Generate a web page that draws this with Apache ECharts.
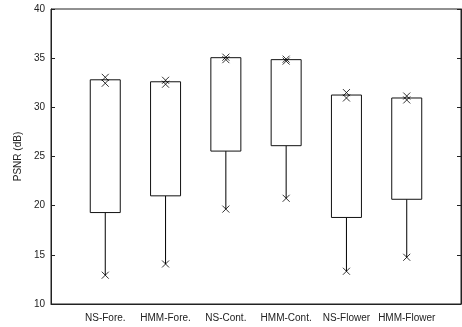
<!DOCTYPE html>
<html>
<head>
<meta charset="utf-8">
<script src="https://cdn.jsdelivr.net/npm/echarts@6/dist/echarts.min.js"></script>
<style>html,body{margin:0;padding:0;background:#fff;}#c{width:462px;height:327px;}</style>
</head>
<body>
<div id="c"></div>
<script>
var categories = ['NS-Fore.', 'HMM-Fore.', 'NS-Cont.', 'HMM-Cont.', 'NS-Flower', 'HMM-Flower'];
var boxLow  = [19.3, 21.0, 25.55, 26.1, 18.8, 20.65];
var boxHigh = [32.8, 32.6, 35.05, 34.85, 31.25, 30.95];
var minVals = [12.93, 14.07, 19.65, 20.75, 13.33, 14.75];
var upperA  = [33.05, 32.75, 35.1, 34.9, 31.5, 31.15];
var upperB  = [32.45, 32.35, 34.85, 34.7, 30.95, 30.75];
var yTicks  = [10, 15, 20, 25, 30, 35, 40];

var positions = categories.map(function (c, i) { return i + 1; });
var boxData = categories.map(function (c, i) { return [positions[i], minVals[i], boxLow[i], boxHigh[i]]; });
function pts(arr) { return arr.map(function (v, i) { return [positions[i], v]; }); }

var font = 'Liberation Sans, Arial, sans-serif';
var xSym = 'path://M0,0L10,10M10,0L0,10';
var markerStyle = { color: 'transparent', borderColor: '#000', borderWidth: 1 };

var chart = echarts.init(document.getElementById('c'), null, { renderer: 'canvas' });
chart.setOption({
  animation: false,
  backgroundColor: '#fff',
  grid: { left: 51, top: 9, right: 1, bottom: 23, show: true, borderColor: '#222', borderWidth: 1, backgroundColor: 'transparent' },
  xAxis: {
    type: 'value', min: 0.1, max: 6.9,
    splitLine: { show: false },
    axisLine: { show: true, lineStyle: { color: '#222', width: 1 } },
    axisTick: { show: false },
    axisLabel: {
      customValues: positions,
      formatter: function (v) { var i = Math.round(v) - 1; return categories[i] || ''; },
      color: '#222', fontFamily: font, fontSize: 10, margin: 9
    }
  },
  yAxis: [{
    type: 'value', min: 10, max: 40, interval: 5, position: 'left',
    name: 'PSNR (dB)', nameLocation: 'middle', nameGap: 22, nameRotate: 90,
    nameTextStyle: { color: '#222', fontFamily: font, fontSize: 10 },
    splitLine: { show: false },
    axisLine: { show: true, lineStyle: { color: '#222', width: 1 } },
    axisTick: { show: true, inside: true, length: 4, lineStyle: { color: '#222' } },
    axisLabel: { color: '#222', fontFamily: font, fontSize: 10, margin: 6,
      formatter: function (v) { return yTicks.indexOf(v) >= 0 ? String(v) : ''; } }
  }, {
    type: 'value', min: 10, max: 40, interval: 5, position: 'right',
    splitLine: { show: false },
    axisLine: { show: true, lineStyle: { color: '#222', width: 1 } },
    axisTick: { show: true, inside: true, length: 4, lineStyle: { color: '#222' } },
    axisLabel: { show: false }
  }],
  series: [{
    type: 'custom',
    data: boxData,
    encode: { x: 0, y: [1, 2, 3] },
    renderItem: function (params, api) {
      var x = api.value(0);
      var pLo = api.coord([x, api.value(1)]);
      var pQ1 = api.coord([x, api.value(2)]);
      var pQ3 = api.coord([x, api.value(3)]);
      var half = 15;
      return {
        type: 'group',
        children: [
          { type: 'line', shape: { x1: pLo[0], y1: pLo[1], x2: pQ1[0], y2: pQ1[1] }, style: { stroke: '#000', lineWidth: 1 } },
          { type: 'rect', shape: { x: pQ3[0] - half, y: pQ3[1], width: 2 * half, height: pQ1[1] - pQ3[1] }, style: { fill: '#fff', stroke: '#111', lineWidth: 1 } }
        ]
      };
    },
    z: 2
  }, {
    type: 'scatter', data: pts(minVals), symbol: xSym, symbolSize: 7, itemStyle: markerStyle, z: 3
  }, {
    type: 'scatter', data: pts(upperA), symbol: xSym, symbolSize: 7, itemStyle: markerStyle, z: 3
  }, {
    type: 'scatter', data: pts(upperB), symbol: xSym, symbolSize: 7, itemStyle: markerStyle, z: 3
  }]
});
</script>
</body>
</html>
